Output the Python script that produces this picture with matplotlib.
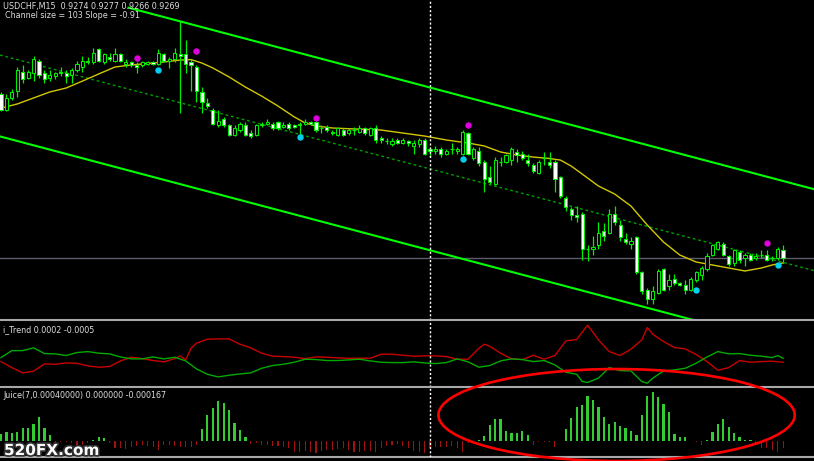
import matplotlib
matplotlib.use("Agg")
import matplotlib.pyplot as plt
import matplotlib.patheffects as pe
from matplotlib.patches import Ellipse

# USDCHF M15 quotes, one candle per bar (bar 0 = leftmost)
opens = [
    0.9373, 0.9363, 0.9370, 0.9375, 0.9387, 0.9383, 0.9386, 0.9394, 0.9386, 0.9383,
    0.9384, 0.9387, 0.9386, 0.9385, 0.9388, 0.9390, 0.9394, 0.9393, 0.9401, 0.9393,
    0.9396, 0.9394, 0.9398, 0.9392, 0.9393, 0.9391, 0.9391, 0.9392, 0.9393, 0.9392,
    0.9398, 0.9394, 0.9395, 0.9398, 0.9398, 0.9393, 0.9390, 0.9374, 0.9367, 0.9363,
    0.9353, 0.9357, 0.9353, 0.9347, 0.9350, 0.9353, 0.9348, 0.9347, 0.9353, 0.9354,
    0.9354, 0.9355, 0.9352, 0.9354, 0.9353, 0.9353, 0.9354, 0.9355, 0.9355, 0.9351,
    0.9352, 0.9349, 0.9347, 0.9350, 0.9348, 0.9350, 0.9349, 0.9351, 0.9347, 0.9351,
    0.9345, 0.9343, 0.9341, 0.9344, 0.9342, 0.9343, 0.9340, 0.9341, 0.9344, 0.9338,
    0.9337, 0.9338, 0.9335, 0.9338, 0.9337, 0.9335, 0.9348, 0.9332, 0.9337, 0.9330,
    0.9320, 0.9316, 0.9330, 0.9330, 0.9331, 0.9336, 0.9335, 0.9331, 0.9328, 0.9323,
    0.9332, 0.9330, 0.9330, 0.9320, 0.9307, 0.9300, 0.9296, 0.9297, 0.9275, 0.9275,
    0.9277, 0.9286, 0.9285, 0.9297, 0.9290, 0.9281, 0.9278, 0.9282, 0.9260, 0.9249,
    0.9243, 0.9247, 0.9262, 0.9251, 0.9256, 0.9253, 0.9252, 0.9249, 0.9255, 0.9258,
    0.9262, 0.9271, 0.9275, 0.9278, 0.9270, 0.9266, 0.9273, 0.9269, 0.9271, 0.9269,
    0.9271, 0.9271, 0.9269, 0.9269, 0.9274,
]
highs = [
    0.9374, 0.9373, 0.9376, 0.9390, 0.9391, 0.9388, 0.9397, 0.9395, 0.9388, 0.9388,
    0.9387, 0.9390, 0.9388, 0.9389, 0.9394, 0.9397, 0.9396, 0.9402, 0.9402, 0.9399,
    0.9399, 0.9402, 0.9399, 0.9395, 0.9394, 0.9393, 0.9394, 0.9394, 0.9394, 0.9401,
    0.9399, 0.9396, 0.9402, 0.9419, 0.9407, 0.9395, 0.9391, 0.9377, 0.9370, 0.9364,
    0.9363, 0.9358, 0.9354, 0.9353, 0.9355, 0.9355, 0.9350, 0.9354, 0.9355, 0.9357,
    0.9355, 0.9356, 0.9355, 0.9355, 0.9354, 0.9355, 0.9357, 0.9356, 0.9356, 0.9353,
    0.9353, 0.9350, 0.9352, 0.9351, 0.9351, 0.9352, 0.9353, 0.9352, 0.9352, 0.9353,
    0.9346, 0.9345, 0.9345, 0.9345, 0.9345, 0.9344, 0.9344, 0.9345, 0.9345, 0.9339,
    0.9340, 0.9339, 0.9338, 0.9342, 0.9339, 0.9350, 0.9349, 0.9339, 0.9339, 0.9331,
    0.9327, 0.9333, 0.9333, 0.9335, 0.9339, 0.9338, 0.9337, 0.9335, 0.9329, 0.9331,
    0.9336, 0.9336, 0.9331, 0.9321, 0.9308, 0.9301, 0.9302, 0.9298, 0.9277, 0.9283,
    0.9292, 0.9291, 0.9300, 0.9302, 0.9293, 0.9285, 0.9282, 0.9283, 0.9261, 0.9250,
    0.9251, 0.9262, 0.9263, 0.9259, 0.9259, 0.9254, 0.9255, 0.9257, 0.9261, 0.9264,
    0.9272, 0.9278, 0.9280, 0.9279, 0.9271, 0.9275, 0.9274, 0.9272, 0.9272, 0.9272,
    0.9274, 0.9274, 0.9270, 0.9276, 0.9277,
]
lows = [
    0.9362, 0.9362, 0.9369, 0.9371, 0.9380, 0.9382, 0.9381, 0.9383, 0.9380, 0.9381,
    0.9382, 0.9384, 0.9380, 0.9380, 0.9387, 0.9387, 0.9392, 0.9392, 0.9393, 0.9392,
    0.9394, 0.9393, 0.9393, 0.9390, 0.9390, 0.9386, 0.9390, 0.9391, 0.9391, 0.9391,
    0.9393, 0.9389, 0.9393, 0.9361, 0.9386, 0.9375, 0.9368, 0.9361, 0.9364, 0.9353,
    0.9352, 0.9352, 0.9346, 0.9346, 0.9349, 0.9346, 0.9345, 0.9346, 0.9352, 0.9353,
    0.9350, 0.9350, 0.9351, 0.9350, 0.9351, 0.9347, 0.9353, 0.9353, 0.9349, 0.9348,
    0.9349, 0.9347, 0.9346, 0.9346, 0.9347, 0.9347, 0.9348, 0.9347, 0.9346, 0.9342,
    0.9342, 0.9341, 0.9340, 0.9341, 0.9341, 0.9340, 0.9335, 0.9339, 0.9334, 0.9333,
    0.9335, 0.9333, 0.9334, 0.9335, 0.9335, 0.9334, 0.9334, 0.9331, 0.9327, 0.9311,
    0.9316, 0.9315, 0.9327, 0.9329, 0.9328, 0.9330, 0.9331, 0.9327, 0.9323, 0.9322,
    0.9328, 0.9326, 0.9311, 0.9307, 0.9299, 0.9293, 0.9292, 0.9268, 0.9267, 0.9271,
    0.9275, 0.9280, 0.9284, 0.9290, 0.9280, 0.9278, 0.9275, 0.9259, 0.9246, 0.9240,
    0.9240, 0.9246, 0.9248, 0.9249, 0.9252, 0.9251, 0.9246, 0.9248, 0.9254, 0.9255,
    0.9261, 0.9270, 0.9274, 0.9270, 0.9264, 0.9264, 0.9266, 0.9264, 0.9267, 0.9268,
    0.9269, 0.9267, 0.9267, 0.9268, 0.9266,
]
closes = [
    0.9363, 0.9370, 0.9374, 0.9388, 0.9382, 0.9387, 0.9395, 0.9385, 0.9382, 0.9385,
    0.9386, 0.9386, 0.9384, 0.9388, 0.9392, 0.9394, 0.9393, 0.9399, 0.9394, 0.9398,
    0.9395, 0.9398, 0.9394, 0.9393, 0.9391, 0.9390, 0.9393, 0.9393, 0.9392, 0.9399,
    0.9394, 0.9395, 0.9399, 0.9397, 0.9392, 0.9391, 0.9375, 0.9368, 0.9365, 0.9354,
    0.9356, 0.9353, 0.9347, 0.9351, 0.9354, 0.9347, 0.9346, 0.9353, 0.9354, 0.9355,
    0.9351, 0.9351, 0.9353, 0.9351, 0.9352, 0.9354, 0.9355, 0.9354, 0.9350, 0.9351,
    0.9350, 0.9348, 0.9351, 0.9347, 0.9350, 0.9350, 0.9351, 0.9348, 0.9351, 0.9344,
    0.9344, 0.9343, 0.9343, 0.9342, 0.9344, 0.9342, 0.9342, 0.9344, 0.9335, 0.9337,
    0.9338, 0.9335, 0.9337, 0.9338, 0.9338, 0.9349, 0.9335, 0.9338, 0.9329, 0.9319,
    0.9317, 0.9331, 0.9330, 0.9334, 0.9338, 0.9334, 0.9332, 0.9329, 0.9324, 0.9330,
    0.9332, 0.9328, 0.9319, 0.9308, 0.9301, 0.9296, 0.9295, 0.9275, 0.9275, 0.9276,
    0.9285, 0.9283, 0.9297, 0.9292, 0.9282, 0.9279, 0.9280, 0.9260, 0.9248, 0.9243,
    0.9248, 0.9261, 0.9249, 0.9255, 0.9253, 0.9252, 0.9249, 0.9256, 0.9260, 0.9263,
    0.9270, 0.9277, 0.9279, 0.9271, 0.9265, 0.9274, 0.9268, 0.9271, 0.9268, 0.9270,
    0.9271, 0.9268, 0.9269, 0.9275, 0.9269,
]

# moving average read at selected bars
ma_bars = [0, 3, 6, 9, 12, 15, 18, 21, 24, 27, 30, 33, 35, 37, 39, 42, 45, 48, 51, 54,
           56, 58, 61, 65, 70, 74, 78, 82, 86, 89, 92, 95, 98, 101, 103, 105, 107, 110,
           113, 116, 119, 122, 125, 128, 131, 134, 137, 140, 142, 144]
ma_values = [0.93639, 0.93665, 0.93703, 0.93741, 0.93766, 0.93810, 0.93855, 0.93899,
             0.93912, 0.93921, 0.93931, 0.93943, 0.93946, 0.93924, 0.93893, 0.93836,
             0.93772, 0.93715, 0.93652, 0.93583, 0.93545, 0.93526, 0.93513, 0.93507,
             0.93500, 0.93481, 0.93462, 0.93437, 0.93418, 0.93399, 0.93361, 0.93342,
             0.93329, 0.93320, 0.93310, 0.93272, 0.93222, 0.93146, 0.93095, 0.93019,
             0.92899, 0.92791, 0.92709, 0.92665, 0.92646, 0.92627, 0.92608, 0.92627,
             0.92646, 0.92659]

# regression channel
channel_mid0 = 0.93973     # centre line at bar 0
channel_slope = -0.91      # points per bar
channel_size = 103         # points, lower to upper
upper_from_bar = 23.5

# signal dots
sell_bars = [25, 36, 58, 86, 141]
sell_prices = [0.93958, 0.94002, 0.93574, 0.93532, 0.92783]
buy_bars = [29, 55, 85, 128, 143]
buy_prices = [0.93880, 0.93454, 0.93317, 0.92488, 0.92646]

cursor_bar = 79

# i_Trend, in points (0.0001)
trend_green_bars = [0, 2, 4, 6, 8, 10, 12, 14, 16, 18, 20, 22, 24, 26, 28, 30, 32, 34, 36, 38,
                    40, 42, 44, 46, 48, 50, 52, 54, 56, 58, 60, 62, 64, 66, 68, 70, 72, 74, 76,
                    78, 80, 82, 84, 86, 88, 90, 92, 94, 96, 98, 100, 102, 104, 106, 107, 108,
                    110, 112, 114, 116, 118, 119, 120, 122, 124, 126, 128, 130, 132, 134, 136,
                    138, 140, 142, 143, 144]
trend_green = [3.2, 15.4, 15.4, 20.3, 10.2, 9.7, 6.8, 12.0, 13.7, 10.8, 9.7, 4.3, 0.9, 0.9,
               4.3, 0.9, 3.8, -2.6, -16.7, -26.1, -30.7, -27.8, -25.5, -23.6, -15.5, -10.8,
               -8.5, -5.0, 0.3, -0.3, -2.0, -2.0, -0.9, 0.3, -2.6, -5.0, -5.6, -5.6, -4.3,
               -6.2, -7.3, -5.6, 0.9, -4.3, -13.7, -10.8, -2.6, 0.9, -0.3, -3.8, -2.0, -9.7,
               -22.5, -26.1, -38.6, -40.5, -33.0, -14.3, -19.6, -20.2, -38.9, -41.8, -33.0,
               -20.2, -18.4, -15.5, -6.8, 4.3, 13.7, 9.7, 10.2, 7.3, 5.6, 3.2, 6.8, 2.0]
trend_red_bars = [0, 2, 4, 6, 8, 10, 12, 14, 16, 18, 20, 22, 24, 26, 28, 30, 32, 33, 34, 35,
                  36, 38, 40, 42, 44, 46, 48, 50, 52, 54, 56, 58, 60, 62, 64, 66, 68, 70, 72,
                  74, 76, 78, 80, 82, 84, 86, 88, 89, 90, 92, 94, 96, 98, 100, 102, 104, 106,
                  108, 109, 110, 112, 114, 116, 118, 119, 120, 122, 124, 126, 128, 130, 132,
                  134, 136, 138, 140, 142, 144]
trend_red = [-3.8, -14.3, -23.6, -20.7, -7.9, -8.5, -6.2, -6.8, -11.4, -13.7, -12.5, -2.6,
             3.8, 1.4, -2.0, -4.3, 1.4, 6.2, -0.9, 19.6, 28.4, 35.4, 36.0, 36.0, 26.6, 20.2,
             10.8, 5.6, 5.0, 3.8, 1.4, 4.3, 3.8, 2.6, 2.0, 2.0, 2.0, 9.1, 9.1, 7.3, 5.6, 6.2,
             6.2, 5.0, 0.3, 0.3, 19.6, 26.6, 23.1, 10.8, 0.9, -0.3, 7.3, 0.3, 6.8, 32.4, 34.8,
             59.9, 47.7, 34.3, 13.7, 6.8, 17.9, 34.3, 55.9, 44.2, 31.3, 20.7, 18.4, 8.5, -3.8,
             -19.0, -14.3, -2.0, -5.0, -3.8, -3.2, -5.0]

# Juice(7, 0.0004) histogram, in points (0.0001)
juice = [
    1.67, 2.25, 2.08, 2.25, 3.33, 3.33, 4.17, 6.0, 3.33, 1.5,
    -0.25, -0.25, -0.3, -0.42, -1.42, -1.08, -0.42, 0.17, 1.0, 0.83,
    -0.42, -1.67, -1.67, -1.92, -1.5, -1.25, -1.08, -1.25, -1.42, -2.33,
    -1.08, -1.08, -1.25, -1.42, -1.5, -1.42, -1.0, 3.08, 6.5, 8.33,
    10.0, 9.42, 7.75, 4.58, 2.75, 1.08, -0.67, -0.58, -1.08, -1.08,
    -1.25, -1.25, -1.5, -1.67, -2.75, -2.75, -2.5, -2.75, -2.92, -2.5,
    -2.33, -2.25, -1.92, -1.83, -2.25, -2.67, -2.75, -2.5, -2.5, -2.67,
    -1.83, -1.25, -1.0, -0.83, -1.25, -1.67, -2.5, -2.75, -2.92, -1.67,
    -1.5, -1.5, -1.5, -1.25, -1.83, -2.75, -0.4, -0.3, 0.25, 1.25,
    4.0, 5.58, 5.42, 2.5, 1.92, 2.08, 2.5, 1.5, -1.08, -0.2,
    -0.2, -0.2, -1.5, -0.1, 3.08, 5.83, 8.58, 9.0, 11.25, 10.25,
    8.5, 6.0, 4.33, 4.75, 3.75, 3.25, 2.5, 1.5, 6.5, 11.25,
    12.25, 11.08, 9.25, 7.25, 1.67, 1.08, 1.0, 0.1, -0.25, -1.0,
    0.17, 2.25, 4.33, 5.42, 3.5, 2.08, 1.0, 0.25, 0.25, -0.8,
    -1.67, -1.67, -2.25, -2.75, -1.67,
]
juice_period = 7
juice_level = 0.0004

PT = 0.0001
bars = list(range(len(closes)))
XLIM = (-0.18, 149.7)

plt.rcParams['font.family'] = ['Liberation Sans Narrow', 'DejaVu Sans']
fig = plt.figure(figsize=(8.14, 4.61), dpi=100, facecolor='black')
ax = fig.add_axes([0, 0.3059, 1, 0.6941])
ax_tr = fig.add_axes([0, 0.1605, 1, 0.1454])
ax_j = fig.add_axes([0, 0.0087, 1, 0.1518])

for a in (ax, ax_tr, ax_j):
    a.set_facecolor('black')
    a.set_xlim(*XLIM)
    a.set_xticks([])
    a.set_yticks([])
    for s in a.spines.values():
        s.set_visible(False)
    a.axvline(cursor_bar, color='white', lw=1, ls=(0, (1.5, 1.5)), zorder=6)
for a, sides in ((ax_tr, ['top']), (ax_j, ['top', 'bottom'])):
    for side in sides:
        a.spines[side].set_visible(True)
        a.spines[side].set_color('#a8a8a8')
        a.spines[side].set_linewidth(1.5)

# ---- price window
ax.set_ylim(0.92298, 0.94323)
ax.axhline(closes[-1], color='#5c5c6c', lw=1, zorder=1)

half = channel_size / 2 * PT
slope = channel_slope * PT
x0, x1 = XLIM
ax.plot([x0, x1], [channel_mid0 + slope * x0, channel_mid0 + slope * x1],
        color='#00a000', lw=1, ls=(0, (2, 2)), zorder=2)
ax.plot([upper_from_bar, x1],
        [channel_mid0 + half + slope * upper_from_bar, channel_mid0 + half + slope * x1],
        color='#00ff00', lw=1.5, zorder=2)
ax.plot([x0, x1], [channel_mid0 - half + slope * x0, channel_mid0 - half + slope * x1],
        color='#00ff00', lw=1.5, zorder=2)

ax.plot(ma_bars, ma_values, color='#d2c800', lw=1, zorder=3)

ax.vlines(bars, lows, highs, color='#00ee00', lw=0.9, zorder=4)
for i, o, c in zip(bars, opens, closes):
    if o == c:
        ax.hlines(o, i - 0.33, i + 0.33, color='#00ee00', lw=0.9, zorder=5)
    else:
        face = 'black' if c > o else 'white'
        ax.bar(i, abs(c - o), bottom=min(o, c), width=0.58, color=face,
               edgecolor='#00ee00', linewidth=0.75, zorder=5)

ax.plot(sell_bars, sell_prices, 'o', ms=3.6, color='#e000e0', zorder=7)
ax.plot(buy_bars, buy_prices, 'o', ms=3.6, color='#00d0ee', zorder=7)

txt = dict(color='#dcdcdc', fontsize=5.8, va='top', xycoords='axes fraction',
           textcoords='offset pixels')
ax.annotate(f"{'USDCHF,M15'}  {opens[-1]:.4f} {highs[-1]:.4f} {lows[-1]:.4f} {closes[-1]:.4f}",
            (0, 1), (3, -2), **txt)
ax.annotate(f"Channel size = {channel_size} Slope = {channel_slope}", (0, 1), (5, -11), **txt)

# ---- i_Trend window
ax_tr.set_ylim(-48.4, 69.1)
ax_tr.plot(trend_red_bars, trend_red, color='#c80000', lw=1)
ax_tr.plot(trend_green_bars, trend_green, color='#00aa00', lw=1)
ax_tr.annotate(f"i_Trend {trend_green[-1] * PT:.4f} {trend_red[-1] * PT:.4f}",
               (0, 1), (3, -5), **txt)

# ---- Juice window
ax_j.set_ylim(-4.0, 13.5)
up_x = [i for i, v in zip(bars, juice) if v > 0]
up_v = [v for v in juice if v > 0]
dn_x = [i for i, v in zip(bars, juice) if v < 0]
dn_v = [v for v in juice if v < 0]
ax_j.bar(up_x, up_v, width=0.42, color='#33cc33', linewidth=0)
ax_j.bar(dn_x, dn_v, width=0.2, color='#a01212', linewidth=0)
ax_j.annotate(f"Juice({juice_period},{juice_level:.8f}) {max(juice[-1], 0) * PT:.6f} "
              f"{min(juice[-1], 0) * PT:.6f}", (0, 1), (3, -4), **txt)

ax_j.add_patch(Ellipse((113.35, 6.5), 65.6, 23, fill=False, edgecolor='#ff0000',
                       lw=1.9, clip_on=False, zorder=8))

fig.text(4 / 814, 6 / 461, "520FX.com", color='white', fontsize=11, fontweight='bold',
         family='DejaVu Sans', va='baseline',
         path_effects=[pe.withStroke(linewidth=2.4, foreground='#303030')])

fig.savefig('out.png', dpi=100, facecolor='black')
